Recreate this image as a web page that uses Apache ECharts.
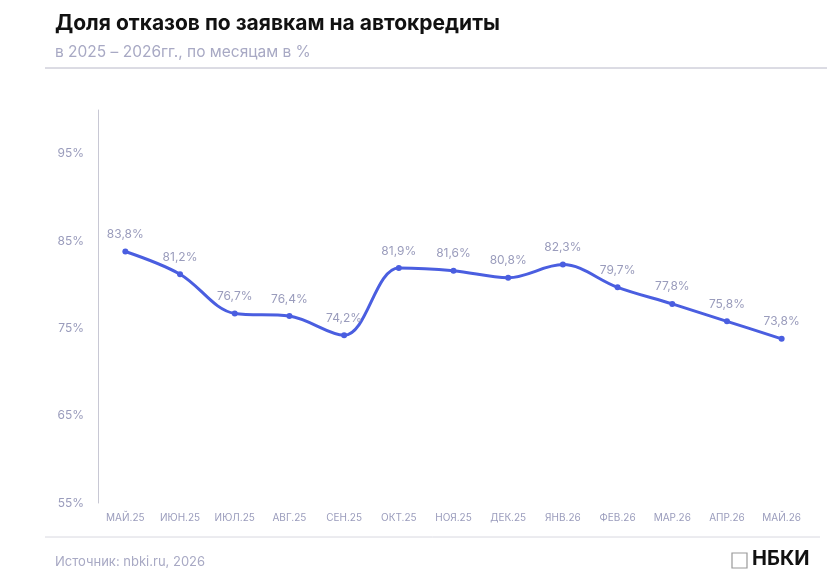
<!DOCTYPE html>
<html><head><meta charset="utf-8">
<script src="https://cdn.jsdelivr.net/npm/echarts@6/dist/echarts.min.js"></script>
<style>html,body{margin:0;padding:0;background:#fff}#c{width:827px;height:582px}</style>
</head><body><div id="c"></div>
<script>
const months = ['МАЙ.25','ИЮН.25','ИЮЛ.25','АВГ.25','СЕН.25','ОКТ.25','НОЯ.25','ДЕК.25','ЯНВ.26','ФЕВ.26','МАР.26','АПР.26','МАЙ.26'];
const rejectShare = [83.8, 81.2, 76.7, 76.4, 74.2, 81.9, 81.6, 80.8, 82.3, 79.7, 77.8, 75.8, 73.8];
const shownTicks = [55, 65, 75, 85, 95];

const gray = '#9a9cbc';
const font = 'Inter, "Noto Sans", sans-serif';
const chart = echarts.init(document.getElementById('c'));
chart.setOption({
    animation: false,
    textStyle: { fontFamily: font },
    grid: { left: 98, right: 18, top: 110, bottom: 79 },
    xAxis: {
        type: 'category',
        data: months,
        axisLine: { show: false },
        axisTick: { show: false },
        axisLabel: { interval: 0, color: gray, fontSize: 10, margin: 10 }
    },
    yAxis: {
        type: 'value',
        min: 55, max: 100, interval: 5,
        splitLine: { show: false },
        axisLine: { show: true, lineStyle: { color: '#c8c8d4' } },
        axisTick: { show: false },
        axisLabel: {
            color: gray, fontSize: 12, margin: 14,
            formatter: v => shownTicks.includes(v) ? v + '%' : ''
        }
    },
    series: [{
        type: 'line',
        data: rejectShare,
        smooth: 0.35,
        symbol: 'circle',
        symbolSize: 6,
        lineStyle: { color: '#4a5ee0', width: 3 },
        itemStyle: { color: '#4a5ee0' },
        label: {
            show: true, position: 'top', distance: 8,
            color: gray, fontSize: 12,
            formatter: p => String(p.value).replace('.', ',') + '%'
        }
    }],
    graphic: [
        { type: 'text', left: 55, top: 13, style: { text: 'Доля отказов по заявкам на автокредиты', fontSize: 21, fontWeight: 'bold', fill: '#111', fontFamily: font } },
        { type: 'text', left: 55, top: 44, style: { text: 'в 2025 – 2026гг., по месяцам в %', fontSize: 15.5, fill: '#a8a9c4', fontFamily: font } },
        { type: 'line', shape: { x1: 45, y1: 68, x2: 827, y2: 68 }, style: { stroke: '#b8b8c8', lineWidth: 1 } },
        { type: 'line', shape: { x1: 45, y1: 537, x2: 820, y2: 537 }, style: { stroke: '#d8d8e0', lineWidth: 1 } },
        { type: 'text', left: 55, top: 556, style: { text: 'Источник: nbki.ru, 2026', fontSize: 13, fill: '#a8a9c4', fontFamily: font } },
        { type: 'rect', shape: { x: 732, y: 553, width: 15, height: 15 }, style: { fill: 'none', stroke: '#999', lineWidth: 1.2 } },
        { type: 'text', left: 752, top: 549, style: { text: 'НБКИ', fontSize: 20, fontWeight: 'bold', fill: '#111', fontFamily: font } }
    ]
});
</script></body></html>
